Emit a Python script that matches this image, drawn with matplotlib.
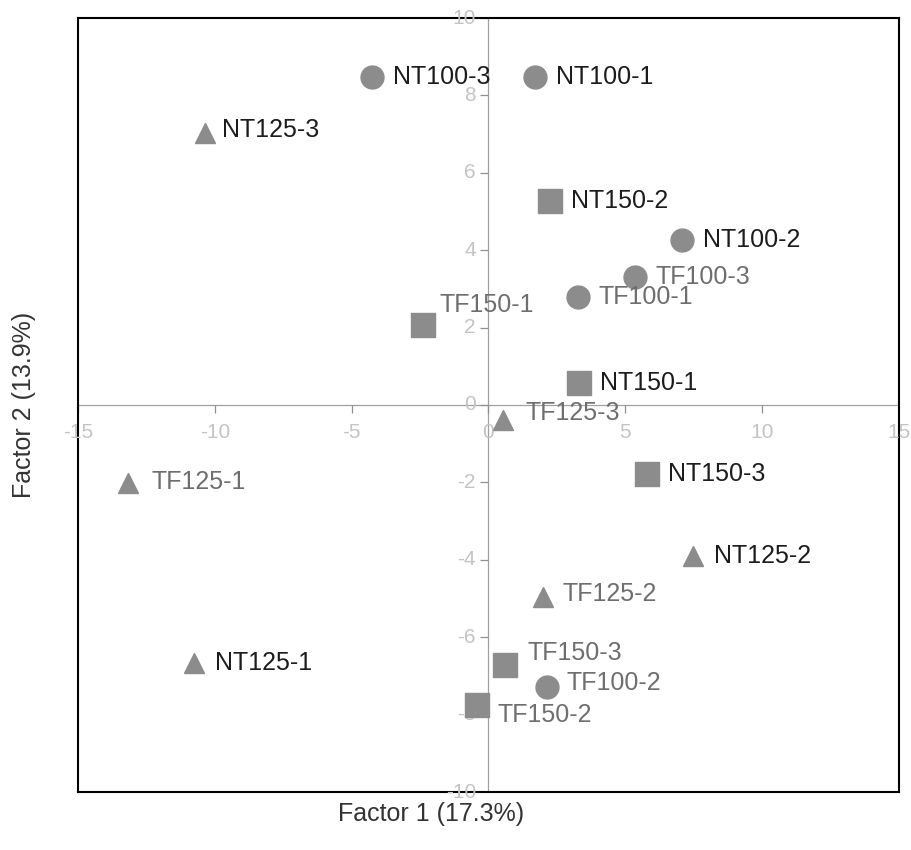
import numpy as np
import matplotlib.pyplot as plt

plt.rcParams['font.family'] = ['Liberation Sans', 'DejaVu Sans']

# factor scores per sample, grouped by treatment
circ_names = ["NT100-3", "NT100-1", "NT100-2", "TF100-3", "TF100-1", "TF100-2"]
circ_x = [-4.26, 1.70, 7.07, 5.35, 3.27, 2.14]
circ_y = [8.48, 8.48, 4.26, 3.31, 2.79, -7.29]

sq_names = ["NT150-2", "TF150-1", "NT150-1", "NT150-3", "TF150-3", "TF150-2"]
sq_x = [2.25, -2.39, 3.31, 5.79, 0.60, -0.42]
sq_y = [5.27, 2.07, 0.57, -1.78, -6.72, -7.75]

tri_names = ["NT125-3", "TF125-1", "TF125-3", "NT125-2", "TF125-2", "NT125-1"]
tri_x = [-10.36, -13.17, 0.53, 7.47, 1.99, -10.76]
tri_y = [7.03, -2.02, -0.39, -3.90, -4.96, -6.67]

xticks = [-15, -10, -5, 0, 5, 10, 15]
yticks = [-10, -8, -6, -4, -2, 0, 2, 4, 6, 8, 10]

# label nudges (points) where the default would collide
offsets = {
    "TF150-1": (12, 14), "TF125-3": (16, 5), "TF125-2": (14, 2),
    "TF150-3": (16, 9), "TF100-2": (14, 3), "TF150-2": (15, -7),
    "NT125-3": (12, 2), "TF125-1": (17, 1),
}

fig = plt.figure(figsize=(9.12, 8.5), dpi=100)
ax = fig.add_axes([78/912, 58/850, 821/912, 774/850])
ax.set_xlim(-15, 15)
ax.set_ylim(-10, 10)

ax.axhline(0, color='#a0a0a0', lw=0.9, zorder=1)
ax.axvline(0, color='#a0a0a0', lw=0.9, zorder=1)

# ticks sit on the zero lines, not on the frame
ax.plot(xticks, np.zeros(len(xticks)), ls='none', marker=3, ms=6, mew=0.9, color='#909090', zorder=1)
ax.plot(np.zeros(len(yticks)), yticks, ls='none', marker=0, ms=6, mew=0.9, color='#909090', zorder=1)
for v in xticks:
    ax.annotate(str(v), (v, 0), xytext=(0, -20), textcoords='offset points',
                ha='center', va='center', fontsize=15, color='#c4c4c4')
for v in yticks:
    ax.annotate(str(v), (0, v), xytext=(-9, 0), textcoords='offset points',
                ha='right', va='center', fontsize=15, color='#c4c4c4')

mcol = '#8c8c8c'
ax.plot(circ_x, circ_y, ls='none', marker='o', ms=16.5, color=mcol, mec=mcol, zorder=3)
ax.plot(sq_x, sq_y, ls='none', marker='s', ms=17.5, color=mcol, mec=mcol, zorder=3)
ax.plot(tri_x, tri_y, ls='none', marker='^', ms=15, color=mcol, mec=mcol, zorder=3)

for names, xs, ys in [(circ_names, circ_x, circ_y), (sq_names, sq_x, sq_y), (tri_names, tri_x, tri_y)]:
    for n, x, y in zip(names, xs, ys):
        c = '#1c1c1c' if n.startswith("NT") else '#6e6e6e'
        ax.annotate(n, (x, y), xytext=offsets.get(n, (15, 0)), textcoords='offset points',
                    ha='left', va='center', fontsize=18, color=c, zorder=4)

ax.set_xticks([])
ax.set_yticks([])
for s in ax.spines.values():
    s.set_linewidth(1.5)
    s.set_color('black')

ax.set_xlabel('Factor 1 (17.3%)', fontsize=18, color='#333333', ha='center', va='center')
ax.xaxis.set_label_coords((431 - 78) / 821, (792 - 814) / 774)
ax.set_ylabel('Factor 2 (13.9%)', fontsize=18, color='#333333', ha='center', va='center')
ax.yaxis.set_label_coords((24 - 78) / 821, 0.5)

fig.savefig('out.png', dpi=100)
